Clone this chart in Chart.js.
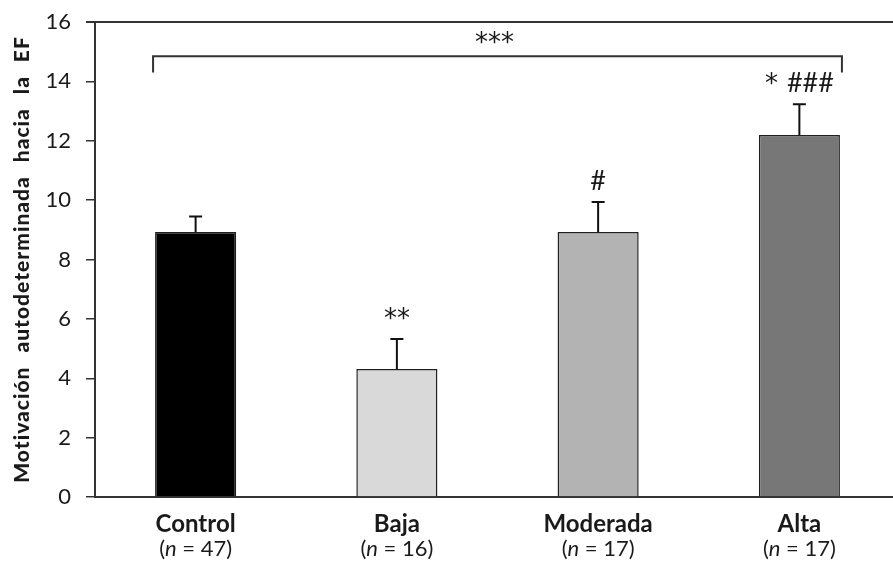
<!DOCTYPE html>
<html>
<head>
<meta charset="utf-8">
<script src="https://cdn.jsdelivr.net/npm/chart.js@4/dist/chart.umd.min.js"></script>
<style>
  html, body { margin: 0; padding: 0; background: #fff; overflow: hidden; }
  #wrap { position: absolute; left: 0; top: 0; width: 905px; height: 565px; }
</style>
</head>
<body>
<div id="wrap"><canvas id="c" width="905" height="565"></canvas></div>
<script>
// Group labels and sample sizes
const categories = ['Control', 'Baja', 'Moderada', 'Alta'];
const groupSizes = [47, 16, 17, 17];
// Mean score and standard error per group
const means = [8.93, 4.31, 8.93, 12.19];
const errors = [0.52, 1.01, 1.01, 1.04];
const barColors = ['#000000', '#d9d9d9', '#b3b3b3', '#777777'];
// Significance marks over each bar
const sigMarks = ['', '**', '#', '* ###'];
// Comparison bracket across all groups
const bracketFrom = 'Control';
const bracketTo = 'Alta';
const bracketLevel = 14.85;
const bracketTip = 14.3;
const bracketLabel = '***';
// Axis
const yMin = 0, yMax = 16, yStep = 2;
const yTitle = 'Motivación autodeterminada hacia la EF';

const FONT = 'Lato, "Open Sans", sans-serif';
const STAR_FONT = '26px "DejaVu Sans", sans-serif';
const HASH_FONT = '27px ' + FONT;
const INK = '#1a1a1a';
const LINE = '#333333';

// draws a mark string token by token, asterisks and hashes in their own fonts
function drawMark(ctx, text, cx, baseline) {
  const tokens = text.split(' ');
  const gap = 9;
  const fontFor = t => (t[0] === '*' ? STAR_FONT : HASH_FONT);
  const widths = tokens.map(t => { ctx.font = fontFor(t); return ctx.measureText(t).width; });
  const total = widths.reduce((s, w) => s + w, 0) + gap * (tokens.length - 1);
  let x = cx - total / 2;
  ctx.textAlign = 'left';
  tokens.forEach((t, k) => {
    ctx.font = fontFor(t);
    ctx.fillText(t, x, baseline);
    x += widths[k] + gap;
  });
}

const extras = {
  id: 'extras',
  afterDraw(chart) {
    const ctx = chart.ctx;
    const area = chart.chartArea;
    const ys = chart.scales.y;
    const xs = chart.scales.x;
    const bars = chart.getDatasetMeta(0).data;

    ctx.save();
    // top frame line
    ctx.strokeStyle = LINE;
    ctx.lineWidth = 2;
    ctx.beginPath();
    ctx.moveTo(area.left - 9, area.top);
    ctx.lineTo(area.right, area.top);
    ctx.stroke();

    // error bars (upper half only)
    ctx.strokeStyle = '#111';
    ctx.lineWidth = 2;
    bars.forEach((bar, i) => {
      const yTop = ys.getPixelForValue(means[i] + errors[i]);
      ctx.beginPath();
      ctx.moveTo(bar.x, bar.y);
      ctx.lineTo(bar.x, yTop);
      ctx.moveTo(bar.x - 6.5, yTop);
      ctx.lineTo(bar.x + 6.5, yTop);
      ctx.stroke();
    });

    // significance marks
    ctx.fillStyle = INK;
    ctx.textBaseline = 'alphabetic';
    bars.forEach((bar, i) => {
      if (!sigMarks[i]) return;
      const yTop = ys.getPixelForValue(means[i] + errors[i]);
      drawMark(ctx, sigMarks[i], bar.x, yTop - 12);
    });

    // bracket
    const a = bars[categories.indexOf(bracketFrom)];
    const b = bars[categories.indexOf(bracketTo)];
    const x1 = a.x - a.width / 2 - 2;
    const x2 = b.x + b.width / 2 + 2;
    const yl = ys.getPixelForValue(bracketLevel);
    const yt = ys.getPixelForValue(bracketTip);
    ctx.strokeStyle = LINE;
    ctx.lineWidth = 2;
    ctx.beginPath();
    ctx.moveTo(x1, yt);
    ctx.lineTo(x1, yl);
    ctx.lineTo(x2, yl);
    ctx.lineTo(x2, yt);
    ctx.stroke();
    drawMark(ctx, bracketLabel, (x1 + x2) / 2 - 3, yl - 5);

    // category labels
    categories.forEach((cat, i) => {
      const x = xs.getPixelForValue(i);
      ctx.textAlign = 'center';
      ctx.font = 'bold 24px ' + FONT;
      ctx.fillText(cat, x, area.bottom + 35);
      const pre = '(', mid = 'n', post = ' = ' + groupSizes[i] + ')';
      ctx.font = '22px ' + FONT;
      const w1 = ctx.measureText(pre).width;
      const w3 = ctx.measureText(post).width;
      ctx.font = 'italic 22px ' + FONT;
      const w2 = ctx.measureText(mid).width;
      const sx = x - (w1 + w2 + w3) / 2;
      const by = area.bottom + 59;
      ctx.textAlign = 'left';
      ctx.font = '22px ' + FONT;
      ctx.fillText(pre, sx, by);
      ctx.font = 'italic 22px ' + FONT;
      ctx.fillText(mid, sx + w1, by);
      ctx.font = '22px ' + FONT;
      ctx.fillText(post, sx + w1 + w2, by);
    });

    // y axis title
    ctx.translate(22, (area.top + area.bottom) / 2);
    ctx.rotate(-Math.PI / 2);
    ctx.font = '900 21px ' + FONT;
    if ('letterSpacing' in ctx) ctx.letterSpacing = '1px';
    if ('wordSpacing' in ctx) ctx.wordSpacing = '8px';
    ctx.textAlign = 'center';
    ctx.textBaseline = 'middle';
    ctx.fillText(yTitle, 0, 0);
    ctx.restore();
  }
};

new Chart(document.getElementById('c'), {
  type: 'bar',
  data: {
    labels: categories,
    datasets: [{
      data: means,
      backgroundColor: barColors,
      borderColor: '#1f1f1f',
      borderWidth: 1.5,
      categoryPercentage: 1,
      barPercentage: 0.403
    }]
  },
  options: {
    responsive: false,
    animation: false,
    devicePixelRatio: 1,
    layout: { padding: { top: 22, right: 5, left: 0, bottom: 0 } },
    plugins: { legend: { display: false }, tooltip: { enabled: false } },
    scales: {
      x: {
        grid: { display: false },
        border: { display: true, color: LINE, width: 2 },
        ticks: { display: false },
        afterFit(s) { s.height = 68; }
      },
      y: {
        min: yMin,
        max: yMax,
        ticks: { stepSize: yStep, color: INK, font: { family: FONT, size: 22 }, padding: 15 },
        grid: { drawOnChartArea: false, drawTicks: true, tickLength: 9, color: LINE, lineWidth: 1.5 },
        border: { display: true, color: LINE, width: 2 },
        afterFit(s) { s.width = 95; s.paddingTop = 0; s.paddingBottom = 0; }
      }
    }
  },
  plugins: [extras]
});
</script>
</body>
</html>
